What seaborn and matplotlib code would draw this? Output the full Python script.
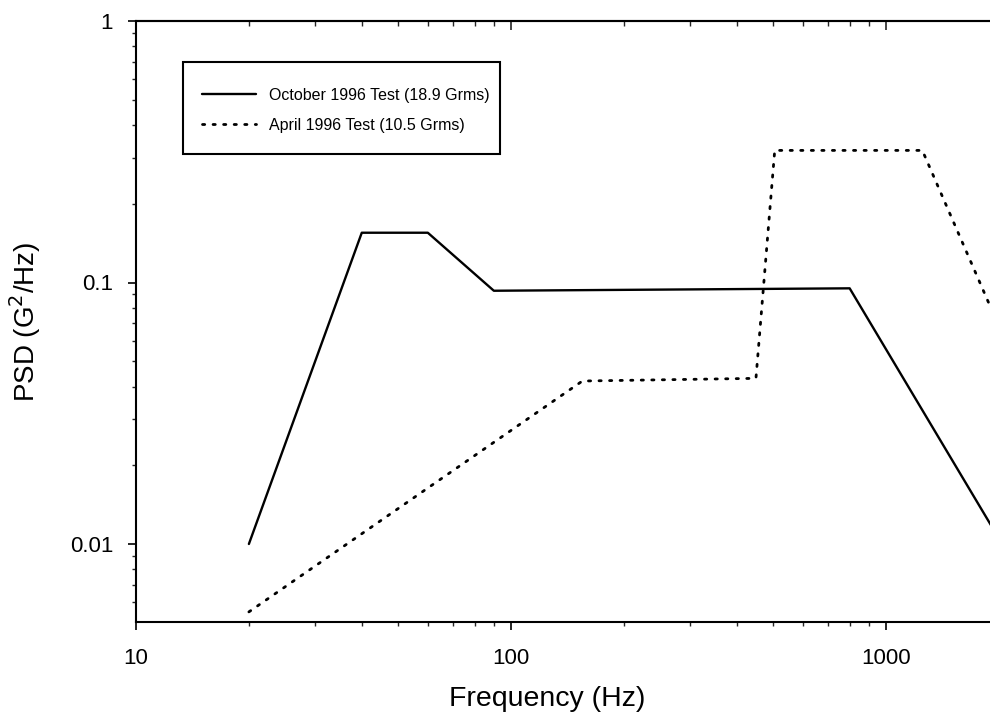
import matplotlib
matplotlib.use("Agg")
import matplotlib.pyplot as plt
import seaborn as sns
import numpy as np
import pandas as pd
from matplotlib.patches import Rectangle
from matplotlib.ticker import LogLocator, NullFormatter, FixedLocator, FixedFormatter

# Data
oct_freq = [20, 40, 60, 90, 800, 2000]
oct_psd = [0.010, 0.155, 0.155, 0.093, 0.095, 0.0105]
apr_freq = [20, 155, 450, 505, 1250, 2000]
apr_psd = [0.0055, 0.042, 0.043, 0.32, 0.32, 0.068]
oct_label = "October 1996 Test (18.9 Grms)"
apr_label = "April 1996 Test (10.5 Grms)"
x_ticks = [10, 100, 1000]
x_ticklabels = ["10", "100", "1000"]
y_ticks = [0.01, 0.1, 1]
y_ticklabels = ["0.01", "0.1", "1"]

sns.set_style("ticks")
plt.rcParams['font.family'] = ['Liberation Sans', 'DejaVu Sans']
plt.rcParams['text.color'] = 'black'
plt.rcParams['axes.labelcolor'] = 'black'

W, H = 990, 717
fig = plt.figure(figsize=(9.9, 7.17), dpi=100)
ax = fig.add_axes([136/W, 1-622/H, 1-136/W, (622-21)/H])

def ax_x(px):
    return (px - 136) / 854

def ax_y(py):
    return (622 - py) / 601

df_oct = pd.DataFrame({"f": oct_freq, "p": oct_psd})
df_apr = pd.DataFrame({"f": apr_freq, "p": apr_psd})
sns.lineplot(data=df_oct, x="f", y="p", ax=ax, color="black", lw=1.7,
             label=oct_label, sort=False)
sns.lineplot(data=df_apr, x="f", y="p", ax=ax, color="black", lw=2.0,
             label=apr_label, sort=False)
ax.lines[1].set_linestyle((0, (0.8, 3.0)))
ax.lines[1].set_dash_capstyle('round')

ax.set_xscale("log")
ax.set_yscale("log")
ax.set_xlim(10, 10**(1 + (990-136)/375))
ax.set_ylim(10**(-(601/261.5)), 1)

ax.xaxis.set_major_locator(FixedLocator(x_ticks))
ax.xaxis.set_major_formatter(FixedFormatter(x_ticklabels))
ax.yaxis.set_major_locator(FixedLocator(y_ticks))
ax.yaxis.set_major_formatter(FixedFormatter(y_ticklabels))
ax.xaxis.set_minor_locator(LogLocator(base=10, subs=np.arange(2, 10)))
ax.yaxis.set_minor_locator(LogLocator(base=10, subs=np.arange(2, 10)))
ax.xaxis.set_minor_formatter(NullFormatter())
ax.yaxis.set_minor_formatter(NullFormatter())

for s in ["left", "bottom", "top"]:
    ax.spines[s].set_linewidth(1.5)
    ax.spines[s].set_color("black")
ax.spines["right"].set_visible(False)

ax.tick_params(axis="both", which="major", direction="out", length=5.5, width=1.2,
               labelsize=16, colors="black")
ax.tick_params(axis="both", which="minor", direction="out", length=3, width=1.0)
ax.tick_params(axis="y", which="major", pad=11)
ax.tick_params(axis="x", which="major", pad=13)

# Top inward ticks via secondary axis
top = ax.secondary_xaxis("top")
top.xaxis.set_major_locator(FixedLocator(x_ticks))
top.xaxis.set_minor_locator(LogLocator(base=10, subs=np.arange(2, 10)))
top.xaxis.set_major_formatter(NullFormatter())
top.xaxis.set_minor_formatter(NullFormatter())
top.tick_params(which="major", direction="in", length=6.5, width=1.2)
top.tick_params(which="minor", direction="in", length=3.5, width=1.0)
top.spines["top"].set_linewidth(1.5)

ax.set_xlabel("Frequency (Hz)", fontsize=20.5, color="black")
ax.set_ylabel("PSD (G$^2$/Hz)", fontsize=20, color="black")
ax.xaxis.set_label_coords(ax_x(547), ax_y(686))
ax.yaxis.set_label_coords(ax_x(43), 0.5)

# Legend (frame drawn separately to match the box proportions)
leg = ax.legend(loc="upper left", bbox_to_anchor=(ax_x(202), ax_y(88)),
                borderaxespad=0, borderpad=0, fontsize=11.5, frameon=False,
                handlelength=3.4, handletextpad=0.8, labelspacing=0.92)
for t in leg.get_texts():
    t.set_color("black")
ax.add_patch(Rectangle((ax_x(183), ax_y(154)), ax_x(500) - ax_x(183),
                       ax_y(62) - ax_y(154), transform=ax.transAxes,
                       fill=False, edgecolor="black", lw=1.5, zorder=5))

fig.savefig("out.png", dpi=100)
